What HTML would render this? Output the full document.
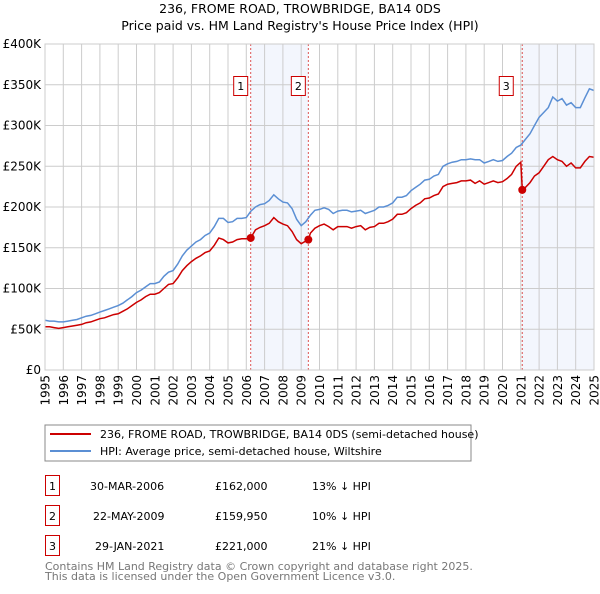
<!DOCTYPE html>
<html><head><meta charset="utf-8"><style>
body{margin:0;background:#fff;width:600px;height:590px;overflow:hidden;font-family:"DejaVu Sans","Liberation Sans",sans-serif;}
</style></head><body>
<svg id="chart" width="600" height="590" xmlns="http://www.w3.org/2000/svg" font-family="DejaVu Sans, Liberation Sans, sans-serif">
<text x="300" y="13" text-anchor="middle" font-size="12.5">236, FROME ROAD, TROWBRIDGE, BA14 0DS</text>
<text x="300" y="30" text-anchor="middle" font-size="12.5">Price paid vs. HM Land Registry's House Price Index (HPI)</text>
<g id="plot"></g>
<g>
<rect x="45" y="425" width="426" height="36" fill="#fff" stroke="#888"/>
<line x1="50" y1="434" x2="91" y2="434" stroke="#cc0000" stroke-width="2"/>
<text x="100" y="438" font-size="11">236, FROME ROAD, TROWBRIDGE, BA14 0DS (semi-detached house)</text>
<line x1="50" y1="451" x2="91" y2="451" stroke="#5b8fd4" stroke-width="2"/>
<text x="100" y="455" font-size="11">HPI: Average price, semi-detached house, Wiltshire</text>
</g>
<g font-size="11">
<rect x="45.5" y="475.5" width="14" height="20" fill="#fff" stroke="#cc0000"/><text x="52.5" y="490" text-anchor="middle">1</text>
<text x="90" y="490">30-MAR-2006</text><text x="215" y="490">£162,000</text><text x="312" y="490">13% ↓ HPI</text>
<rect x="45.5" y="505.5" width="14" height="20" fill="#fff" stroke="#cc0000"/><text x="52.5" y="520" text-anchor="middle">2</text>
<text x="93" y="520">22-MAY-2009</text><text x="215" y="520">£159,950</text><text x="312" y="520">10% ↓ HPI</text>
<rect x="45.5" y="535.5" width="14" height="20" fill="#fff" stroke="#cc0000"/><text x="52.5" y="550" text-anchor="middle">3</text>
<text x="95" y="550">29-JAN-2021</text><text x="215" y="550">£221,000</text><text x="312" y="550">21% ↓ HPI</text>
</g>
<text x="45" y="570" font-size="11" fill="#777">Contains HM Land Registry data © Crown copyright and database right 2025.</text>
<text x="45" y="580" font-size="11" fill="#777">This data is licensed under the Open Government Licence v3.0.</text>
</svg>
<script>
const hpiStart = 1995;
const hpiValues = [61,60,60,59, 59,60,61,62, 64,66,67,69, 71,73,75,77, 79,82,86,90, 95,98,102,106, 106,108,115,120, 122,130,140,147, 152,157,160,165, 168,176,186,186, 181,182,186,186, 187,195,200,203, 204,208,215,210, 206,205,198,185, 177,182,190,196, 197,199,197,192, 195,196,196,194, 195,196,192,194, 196,200,200,202, 205,212,212,214, 220,224,228,233, 234,238,240,250, 253,255,256,258, 258,259,258,258, 254,256,258,256, 257,262,266,273, 276,283,290,300, 310,316,322,335, 330,333,325,328, 322,322,334,345, 343];
const redDates = [1995,1995.25,1995.5,1995.75,1996,1996.25,1996.5,1996.75,1997,1997.25,1997.5,1997.75,1998,1998.25,1998.5,1998.75,1999,1999.25,1999.5,1999.75,2000,2000.25,2000.5,2000.75,2001,2001.25,2001.5,2001.75,2002,2002.25,2002.5,2002.75,2003,2003.25,2003.5,2003.75,2004,2004.25,2004.5,2004.75,2005,2005.25,2005.5,2005.75,2006,2006.24,2006.5,2006.75,2007,2007.25,2007.5,2007.75,2008,2008.25,2008.5,2008.75,2009,2009.39,2009.5,2009.75,2010,2010.25,2010.5,2010.75,2011,2011.25,2011.5,2011.75,2012,2012.25,2012.5,2012.75,2013,2013.25,2013.5,2013.75,2014,2014.25,2014.5,2014.75,2015,2015.25,2015.5,2015.75,2016,2016.25,2016.5,2016.75,2017,2017.25,2017.5,2017.75,2018,2018.25,2018.5,2018.75,2019,2019.25,2019.5,2019.75,2020,2020.25,2020.5,2020.75,2021.0,2021.08,2021.25,2021.5,2021.75,2022,2022.25,2022.5,2022.75,2023,2023.25,2023.5,2023.75,2024,2024.25,2024.5,2024.75,2025];
const redValues = [53,53,52,51,52,53,54,55,56,58,59,61,63,64,66,68,69,72,75,79,83,86,90,93,93,95,100,105,106,113,122,128,133,137,140,144,146,153,162,160,156,157,160,161,161,162,172,175,177,180,187,182,179,177,170,160,155,160,168,174,177,179,176,172,176,176,176,174,176,177,172,175,176,180,180,182,185,191,191,193,198,202,205,210,211,214,216,225,228,229,230,232,232,233,229,232,228,230,232,230,231,235,240,250,255,221,224,230,238,242,250,258,262,258,256,250,254,248,248,256,262,261];
const saleDates = [2006.24, 2009.39, 2021.08];
const salePrices = [162, 159.95, 221];
const saleLabels = ["1","2","3"];
const yTicks = [0,50,100,150,200,250,300,350,400];
const yTickLabels = ["£0","£50K","£100K","£150K","£200K","£250K","£300K","£350K","£400K"];
const xTicks = [1995,1996,1997,1998,1999,2000,2001,2002,2003,2004,2005,2006,2007,2008,2009,2010,2011,2012,2013,2014,2015,2016,2017,2018,2019,2020,2021,2022,2023,2024,2025];

const X0=45,X1=594,Y0=370,Y1=44;
const xs=t=>X0+(t-1995)/30*(X1-X0);
const ys=v=>Y0-v/400*(Y0-Y1);
const NS="http://www.w3.org/2000/svg";
const g=document.getElementById('plot');
function mk(tag,attrs){const e=document.createElementNS(NS,tag);for(const k in attrs)e.setAttribute(k,attrs[k]);g.appendChild(e);return e;}
[[saleDates[0],saleDates[1]],[saleDates[2],2025]].forEach((r,i)=>{
 const e=mk('rect',{x:xs(r[0]),y:Y1,width:xs(r[1])-xs(r[0]),height:Y0-Y1,fill:'#f3f6fd'});
 
 
});
yTicks.forEach((v,i)=>{
 const l=mk('line',{x1:X0,x2:X1,y1:ys(v),y2:ys(v),stroke:'#ccc','stroke-width':1});
 
 
 const t=mk('text',{x:X0-4,y:ys(v)+4,'text-anchor':'end','font-size':12});
 t.textContent=yTickLabels[i];
 
 
});
xTicks.forEach(yr=>{
 const l=mk('line',{x1:xs(yr),x2:xs(yr),y1:Y1,y2:Y0,stroke:'#ccc','stroke-width':1});
 
 
 const px=xs(yr)+4.5, py=Y0+5;
 const t=mk('text',{x:px,y:py,'text-anchor':'end','font-size':12,transform:'rotate(-90 '+px+' '+py+')'});
 t.textContent=yr;
 
 
});
saleDates.forEach((d,i)=>{
 const l=mk('line',{x1:xs(d),x2:xs(d),y1:Y1,y2:Y0,stroke:'#dd5555','stroke-dasharray':'2,2','stroke-width':1});
 
 
});
let hp='';hpiValues.forEach((v,i)=>{hp+=(i?'L':'M')+xs(hpiStart+i*0.25).toFixed(1)+','+ys(v).toFixed(1);});
const hl=mk('path',{d:hp,fill:'none',stroke:'#5b8fd4','stroke-width':1.5});


let rp='';redValues.forEach((v,i)=>{rp+=(i?'L':'M')+xs(redDates[i]).toFixed(1)+','+ys(v).toFixed(1);});
const rl=mk('path',{d:rp,fill:'none',stroke:'#cc0000','stroke-width':1.5});


saleDates.forEach((d,i)=>{
 const c=mk('circle',{cx:xs(d),cy:ys(salePrices[i]),r:4,fill:'#cc0000'});
 
 
 const bx=xs(d)-(i===2?16:10)-7;
 const r=mk('rect',{x:bx,y:76.5,width:14,height:19,fill:'#fff',stroke:'#cc0000'});
 
 
 const t=mk('text',{x:bx+7,y:90,'text-anchor':'middle','font-size':11});
 t.textContent=saleLabels[i];
 
 
});
const fr=mk('rect',{x:X0,y:Y1,width:X1-X0,height:Y0-Y1,fill:'none',stroke:'#ccc'});


</script>
</body></html>
